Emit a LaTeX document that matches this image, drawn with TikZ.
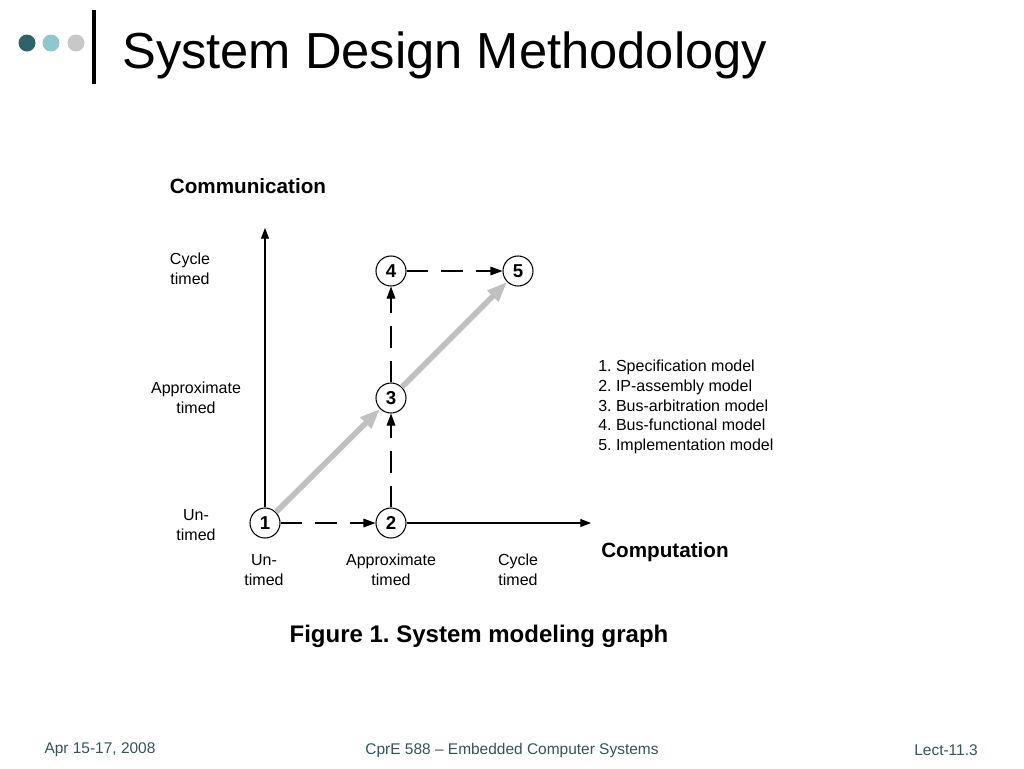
\documentclass[tikz,border=0pt]{standalone}
\usepackage{fontspec}
\setmainfont{Liberation Sans}
\usetikzlibrary{arrows.meta}
\definecolor{dotdark}{RGB}{46,99,107}
\definecolor{dotlight}{RGB}{142,200,206}
\definecolor{dotgrey}{RGB}{200,200,200}
\definecolor{footc}{RGB}{51,85,90}
\definecolor{grayarrow}{RGB}{192,192,192}
\tikzset{
  model/.style={circle,draw,line width=0.8pt,minimum size=22.5pt,inner sep=0pt,font=\fontsize{14}{14}\selectfont\bfseries},
  lbl/.style={align=center,inner sep=0pt,font=\fontsize{12}{14.6}\selectfont},
  axis/.style={line width=0.8pt,-{Triangle[length=8pt,width=6pt]}},
  dasharrow/.style={line width=0.8pt,dash pattern=on 16pt off 10pt,-{Triangle[length=9pt,width=6.5pt]}},
  grayarr/.style={line width=4.2pt,grayarrow,-{Triangle[length=15pt,width=11pt]}},
  foot/.style={inner sep=0pt,text=footc,font=\fontsize{11.6}{13}\selectfont},
}
\begin{document}
\frenchspacing
\begin{tikzpicture}[x=0.75pt,y=-0.75pt]
\useasboundingbox[fill=white] (0,0) rectangle (1024,768);
% header
\fill[dotdark] (27,43) circle (8.5);
\fill[dotlight] (51,43) circle (8.5);
\fill[dotgrey] (76,43) circle (8.5);
\draw[line width=2.3pt] (94,10) -- (94,84);
\node[anchor=base west,inner sep=0pt,font=\fontsize{38}{40}\selectfont] (title) at (122,68) {System Design Methodology};
% model nodes
\node[model] (n1) at (265,523) {1};
\node[model] (n2) at (391,523) {2};
\node[model] (n3) at (391,398) {3};
\node[model] (n4) at (391,271) {4};
\node[model] (n5) at (518,271) {5};
% axes
\coordinate (ytip) at (265,228);
\coordinate (xtip) at (591,523);
\draw[axis] (n1.north) -- (ytip);
\draw[axis] (n2.east) -- (xtip);
% dashed transitions
\draw[dasharrow] (n1) -- (n2);
\draw[dasharrow] (n2) -- (n3);
\draw[dasharrow] (n3) -- (n4);
\draw[dasharrow] (n4) -- (n5);
% gray path
\draw[grayarr] (n1) -- (n3);
\draw[grayarr] (n3) -- (n5);
% labels
\node[lbl,font=\fontsize{15.5}{16}\selectfont\bfseries] (comm) at (248,186) {Communication};
\node[lbl] (ycyc) at (190,269) {Cycle\\timed};
\node[lbl] (yapp) at (196,398) {Approximate\\timed};
\node[lbl] (yun) at (196,525) {Un-\\timed};
\node[lbl] (xun) at (264,570) {Un-\\timed};
\node[lbl] (xapp) at (391,570) {Approximate\\timed};
\node[lbl] (xcyc) at (518,570) {Cycle\\timed};
\node[lbl,font=\fontsize{15.5}{16}\selectfont\bfseries] (comp) at (665,552) {Computation};
\node[lbl,align=left,anchor=west,font=\fontsize{12}{14.8}\selectfont] (legend) at (598,407) {1. Specification model\\2. IP-assembly model\\3. Bus-arbitration model\\4. Bus-functional model\\5. Implementation model};
\node[lbl,font=\fontsize{18}{20}\selectfont\bfseries] (caption) at (479,636) {Figure 1. System modeling graph};
% footer
\node[foot] (f1) at (100,750) {Apr 15-17, 2008};
\node[foot] (f2) at (512,750) {CprE 588 -- Embedded Computer Systems};
\node[foot] (f3) at (946,750) {Lect-11.3};
\end{tikzpicture}
\end{document}
